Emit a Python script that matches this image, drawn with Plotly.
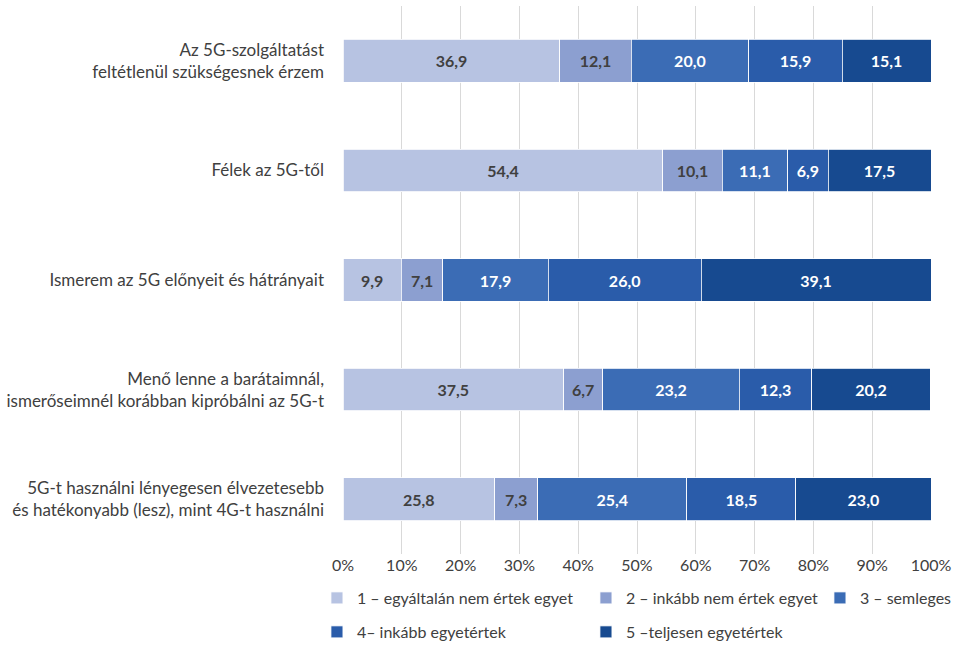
import plotly.graph_objects as go

categories = [
    "Az 5G-szolgáltatást<br>feltétlenül szükségesnek érzem",
    "Félek az 5G-től",
    "Ismerem az 5G előnyeit és hátrányait",
    "Menő lenne a barátaimnál,<br>ismerőseimnél korábban kipróbálni az 5G-t",
    "5G-t használni lényegesen élvezetesebb<br>és hatékonyabb (lesz), mint 4G-t használni",
]
series_names = [
    "1 – egyáltalán nem értek egyet",
    "2 – inkább nem értek egyet",
    "3 – semleges",
    "4– inkább egyetértek",
    "5 –teljesen egyetértek",
]
values = [
    [36.9, 54.4, 9.9, 37.5, 25.8],
    [12.1, 10.1, 7.1, 6.7, 7.3],
    [20.0, 11.1, 17.9, 23.2, 25.4],
    [15.9, 6.9, 26.0, 12.3, 18.5],
    [15.1, 17.5, 39.1, 20.2, 23.0],
]
tick_vals = [0, 10, 20, 30, 40, 50, 60, 70, 80, 90, 100]
tick_text = [f"{v}%" for v in tick_vals]

colors = ["#B7C3E2", "#8C9FD0", "#3B6CB5", "#2A5CAA", "#174A90"]
label_colors = ["#404040", "#404040", "#FFFFFF", "#FFFFFF", "#FFFFFF"]
legends = ["legend", "legend", "legend3", "legend2", "legend2"]
FONT = "Lato, Open Sans, sans-serif"
TXT = "#404040"

fig = go.Figure()
for name, vals, col, lc, lg in zip(series_names, values, colors, label_colors, legends):
    fig.add_trace(go.Bar(
        y=categories, x=vals, name=name, orientation="h",
        marker=dict(color=col, line=dict(color="white", width=0.8)),
        text=[f"{v:.1f}".replace(".", ",") for v in vals],
        textposition="inside", insidetextanchor="middle",
        textfont=dict(color=lc, size=16, family=FONT, weight="bold"),
        constraintext="none",
        width=0.39,
        legend=lg,
        hoverinfo="skip",
    ))

leg_common = dict(orientation="h", xanchor="left", yanchor="top",
                  xref="container", yref="container",
                  entrywidthmode="pixels", traceorder="normal",
                  font=dict(size=16, color=TXT, family=FONT), bgcolor="rgba(0,0,0,0)")

fig.update_layout(
    barmode="stack",
    width=959, height=647,
    margin=dict(l=341, r=28, t=6, b=93),
    plot_bgcolor="white", paper_bgcolor="white",
    font=dict(family=FONT, size=17, color=TXT),
    xaxis=dict(range=[0, 100], tickvals=tick_vals, ticktext=tick_text,
               showgrid=True, gridcolor="#D9D9D9", gridwidth=1,
               zeroline=False, showline=False, ticks="", ticklen=0,
               tickfont=dict(size=16, color=TXT)),
    yaxis=dict(autorange="reversed", showgrid=False, zeroline=False,
               ticks="", ticklabelstandoff=18,
               tickfont=dict(size=17, color=TXT)),
    legend=dict(x=0.3305, y=0.102, entrywidth=224, **leg_common),
    legend2=dict(x=0.3305, y=0.0495, entrywidth=224, **leg_common),
    legend3=dict(x=0.855, y=0.102, entrywidth=0, **leg_common),
)

fig.write_html("out.html", config={"displayModeBar": False},
               post_script="document.body.style.margin='0';")
